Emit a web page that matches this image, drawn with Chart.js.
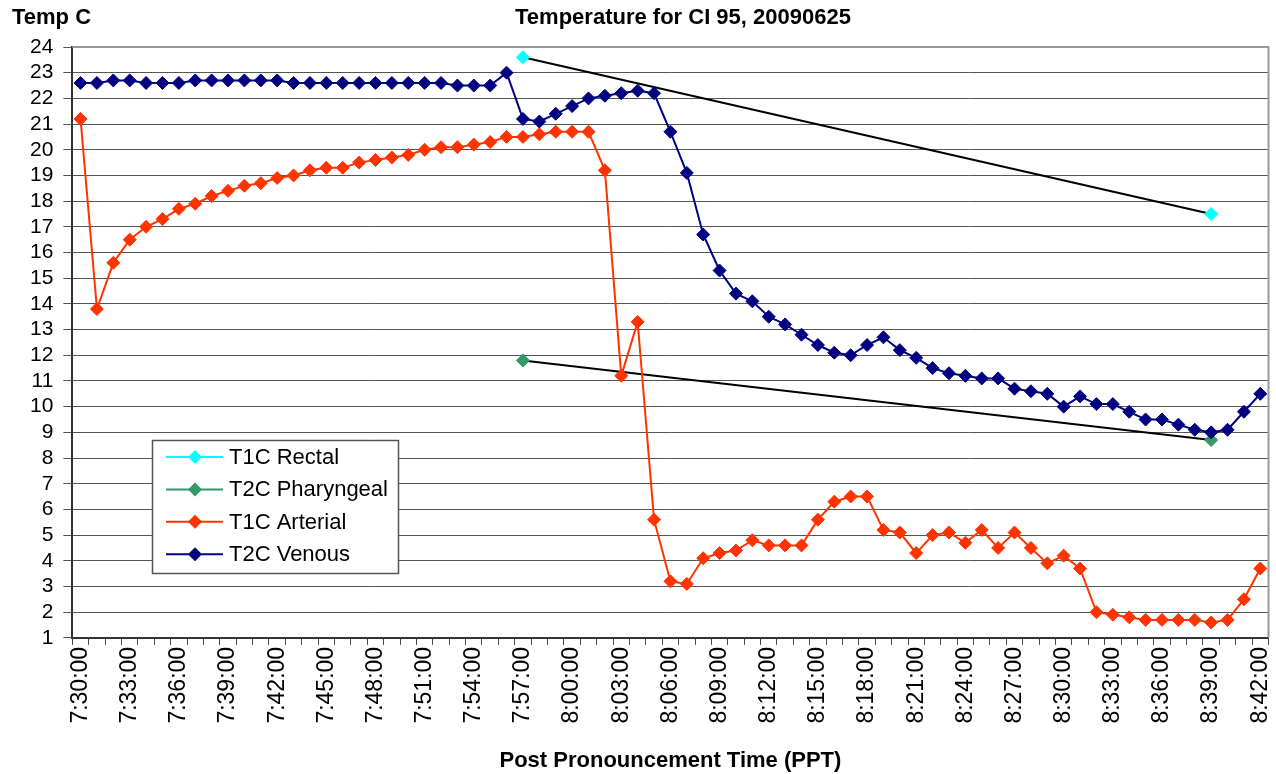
<!DOCTYPE html>
<html>
<head>
<meta charset="utf-8">
<script src="https://cdn.jsdelivr.net/npm/chart.js@4/dist/chart.umd.min.js"></script>
<style>
  html, body { margin: 0; padding: 0; background: #fff; }
</style>
</head>
<body>
<canvas id="tempChart" width="1276" height="774"></canvas>
<script>
// Fonts: Liberation Sans stands in for Arial
const FONT = 'Arial, "Liberation Sans", sans-serif';

// Categories: one per minute
const timeLabels = [
  '7:30:00', '7:31:00', '7:32:00', '7:33:00', '7:34:00', '7:35:00', '7:36:00', '7:37:00', '7:38:00', '7:39:00',
  '7:40:00', '7:41:00', '7:42:00', '7:43:00', '7:44:00', '7:45:00', '7:46:00', '7:47:00', '7:48:00', '7:49:00',
  '7:50:00', '7:51:00', '7:52:00', '7:53:00', '7:54:00', '7:55:00', '7:56:00', '7:57:00', '7:58:00', '7:59:00',
  '8:00:00', '8:01:00', '8:02:00', '8:03:00', '8:04:00', '8:05:00', '8:06:00', '8:07:00', '8:08:00', '8:09:00',
  '8:10:00', '8:11:00', '8:12:00', '8:13:00', '8:14:00', '8:15:00', '8:16:00', '8:17:00', '8:18:00', '8:19:00',
  '8:20:00', '8:21:00', '8:22:00', '8:23:00', '8:24:00', '8:25:00', '8:26:00', '8:27:00', '8:28:00', '8:29:00',
  '8:30:00', '8:31:00', '8:32:00', '8:33:00', '8:34:00', '8:35:00', '8:36:00', '8:37:00', '8:38:00', '8:39:00',
  '8:40:00', '8:41:00', '8:42:00'
];

// T2C Venous
const venous = [
  22.6, 22.6, 22.7, 22.7, 22.6, 22.6, 22.6, 22.7, 22.7, 22.7,
  22.7, 22.7, 22.7, 22.6, 22.6, 22.6, 22.6, 22.6, 22.6, 22.6,
  22.6, 22.6, 22.6, 22.5, 22.5, 22.5, 23.0, 21.2, 21.1, 21.4,
  21.7, 22.0, 22.1, 22.2, 22.3, 22.2, 20.7, 19.1, 16.7, 15.3,
  14.4, 14.1, 13.5, 13.2, 12.8, 12.4, 12.1, 12.0, 12.4, 12.7,
  12.2, 11.9, 11.5, 11.3, 11.2, 11.1, 11.1, 10.7, 10.6, 10.5,
  10.0, 10.4, 10.1, 10.1, 9.8, 9.5, 9.5, 9.3, 9.1, 9.0,
  9.1, 9.8, 10.5
];

// T1C Arterial
const arterial = [
  21.2, 13.8, 15.6, 16.5, 17.0, 17.3, 17.7, 17.9, 18.2, 18.4,
  18.6, 18.7, 18.9, 19.0, 19.2, 19.3, 19.3, 19.5, 19.6, 19.7,
  19.8, 20.0, 20.1, 20.1, 20.2, 20.3, 20.5, 20.5, 20.6, 20.7,
  20.7, 20.7, 19.2, 11.2, 13.3, 5.6, 3.2, 3.1, 4.1, 4.3,
  4.4, 4.8, 4.6, 4.6, 4.6, 5.6, 6.3, 6.5, 6.5, 5.2,
  5.1, 4.3, 5.0, 5.1, 4.7, 5.2, 4.5, 5.1, 4.5, 3.9,
  4.2, 3.7, 2.0, 1.9, 1.8, 1.7, 1.7, 1.7, 1.7, 1.6,
  1.7, 2.5, 3.7
];

// T1C Rectal and T2C Pharyngeal: only two readings each
const rectalTimes = ['7:57:00', '8:39:00'];
const rectalValues = [23.6, 17.5];
const pharyngealTimes = ['7:57:00', '8:39:00'];
const pharyngealValues = [11.8, 8.7];

function pairUp(times, values) {
    return times.map((t, i) => ({ x: t, y: values[i] }));
}

// Series look (Excel 2003 defaults)
function seriesStyle(color, lineColor) {
    return {
        borderColor: lineColor,
        borderWidth: 2,
        pointStyle: 'rectRot',
        pointRadius: 6.5,
        pointBorderWidth: 1,
        pointBackgroundColor: color,
        pointBorderColor: color,
        tension: 0,
        spanGaps: true
    };
}

// Header texts: y axis caption top-left and the chart title
const headerText = {
    id: 'headerText',
    afterDraw(chart) {
        const ctx = chart.ctx;
        ctx.save();
        ctx.fillStyle = '#000';
        ctx.font = 'bold 22px ' + FONT;
        ctx.textBaseline = 'middle';
        ctx.textAlign = 'left';
        ctx.fillText('Temp C', 12, 18);
        ctx.textAlign = 'center';
        ctx.fillText('Temperature for CI 95, 20090625', 683, 18);
        ctx.restore();
    }
};

// Grey frame on top and right of the plot area
const plotFrame = {
    id: 'plotFrame',
    beforeDatasetsDraw(chart) {
        const a = chart.chartArea;
        const ctx = chart.ctx;
        ctx.save();
        ctx.strokeStyle = '#999';
        ctx.lineWidth = 2;
        ctx.beginPath();
        ctx.moveTo(a.left, a.top);
        ctx.lineTo(a.right, a.top);
        ctx.lineTo(a.right, a.bottom);
        ctx.stroke();
        ctx.restore();
    }
};

// Boxed legend sitting inside the plot, like Excel's
const boxLegend = {
    id: 'boxLegend',
    afterDraw(chart) {
        const ctx = chart.ctx;
        ctx.save();
        ctx.fillStyle = '#fff';
        ctx.fillRect(152, 440, 246, 133);
        ctx.strokeStyle = '#555';
        ctx.lineWidth = 1.5;
        ctx.strokeRect(152.5, 440.5, 246, 133);
        ctx.font = '22px ' + FONT;
        ctx.textBaseline = 'middle';
        ctx.textAlign = 'left';
        chart.data.datasets.forEach((ds, i) => {
            const y = 457 + i * 32.4;
            const c = ds.pointBackgroundColor;
            ctx.strokeStyle = c;
            ctx.lineWidth = 2;
            ctx.beginPath();
            ctx.moveTo(166, y);
            ctx.lineTo(223, y);
            ctx.stroke();
            ctx.fillStyle = c;
            ctx.beginPath();
            ctx.moveTo(195, y - 7);
            ctx.lineTo(202, y);
            ctx.lineTo(195, y + 7);
            ctx.lineTo(188, y);
            ctx.closePath();
            ctx.fill();
            ctx.fillStyle = '#000';
            ctx.fillText(ds.label, 229, y + 1);
        });
        ctx.restore();
    }
};

const ctx = document.getElementById('tempChart').getContext('2d');

new Chart(ctx, {
    type: 'line',
    data: {
        labels: timeLabels,
        datasets: [
            Object.assign({ label: 'T1C Rectal', data: pairUp(rectalTimes, rectalValues), order: 4 },
                seriesStyle('#00FFFF', '#000')),
            Object.assign({ label: 'T2C Pharyngeal', data: pairUp(pharyngealTimes, pharyngealValues), order: 3 },
                seriesStyle('#339966', '#000')),
            Object.assign({ label: 'T1C Arterial', data: arterial, order: 2 },
                seriesStyle('#FF3300', '#FF3300')),
            Object.assign({ label: 'T2C Venous', data: venous, order: 1 },
                seriesStyle('#000080', '#000080'))
        ]
    },
    options: {
        responsive: false,
        animation: false,
        layout: { padding: { left: 20, right: 7, top: 47, bottom: 0 } },
        plugins: {
            legend: { display: false },
            title: { display: false },
            tooltip: { enabled: false }
        },
        scales: {
            x: {
                type: 'category',
                offset: true,
                // rotated labels would otherwise push the plot inwards
                afterFit: function (scale) {
                    scale.paddingLeft = 0;
                    scale.paddingRight = 0;
                },
                grid: { offset: true, drawOnChartArea: false, tickLength: 7, color: '#444', lineWidth: 1 },
                border: { color: '#333', width: 2 },
                ticks: {
                    autoSkip: false,
                    maxRotation: 90,
                    minRotation: 90,
                    padding: 2,
                    color: '#000',
                    font: { family: FONT, size: 23 },
                    callback: function (value, index) {
                        return index % 3 === 0 ? this.getLabelForValue(value) : '';
                    }
                },
                title: {
                    display: true,
                    text: 'Post Pronouncement Time (PPT)',
                    color: '#000',
                    font: { family: FONT, size: 22, weight: 'bold' },
                    padding: { top: 22, bottom: 0 }
                }
            },
            y: {
                min: 1,
                max: 24,
                grid: { color: '#555', lineWidth: 1, tickLength: 9 },
                border: { color: '#333', width: 2 },
                ticks: {
                    stepSize: 1,
                    autoSkip: false,
                    padding: 10,
                    color: '#000',
                    font: { family: FONT, size: 21 }
                }
            }
        }
    },
    plugins: [headerText, plotFrame, boxLegend]
});
</script>
</body>
</html>
